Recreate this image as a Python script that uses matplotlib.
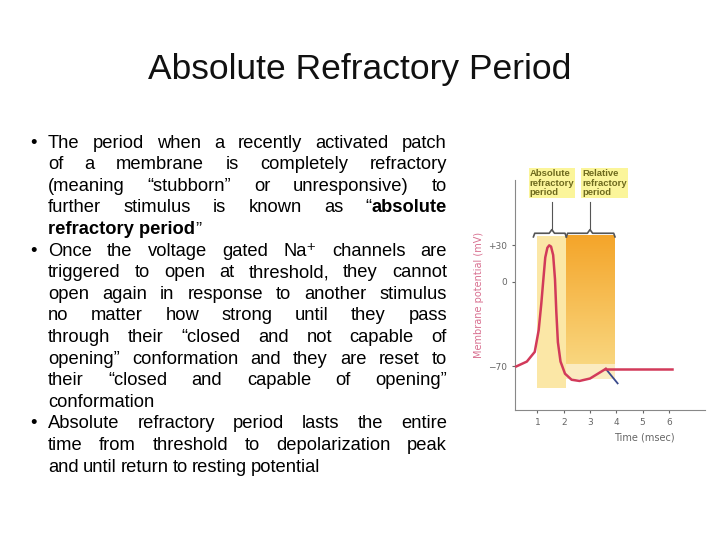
import numpy as np
import matplotlib; matplotlib.use("Agg")
import matplotlib.pyplot as plt

# --- data ---
time_ms = [0.2, 0.6, 0.9, 1.05, 1.15, 1.22, 1.3, 1.38, 1.45, 1.52, 1.6, 1.67, 1.72, 1.78, 1.88, 2.05, 2.3, 2.6, 3.0, 3.3, 3.6]
potential = [-70, -66, -58, -40, -18, 0, 20, 28, 30, 29, 22, 2, -25, -50, -66, -76, -81, -82, -80, -76, -72]
rest_t = [3.6, 6.1]
rest_v = [-72, -72]
hyper_t = [3.6, 4.05]
hyper_v = [-72, -84]
yticks = [30, 0, -70]
yticklabels = ['+30', '0', '\u221270']
xticks = [1, 2, 3, 4, 5, 6]
abs_span = (1.0, 2.1)
rel_span = (2.1, 3.95)

bullets = [
    [[("The", 0), ("period", 0), ("when", 0), ("a", 0), ("recently", 0), ("activated", 0), ("patch", 0)],
     [("of", 0), ("a", 0), ("membrane", 0), ("is", 0), ("completely", 0), ("refractory", 0)],
     [("(meaning", 0), ("\u201cstubborn\u201d", 0), ("or", 0), ("unresponsive)", 0), ("to", 0)],
     [("further", 0), ("stimulus", 0), ("is", 0), ("known", 0), ("as", 0), ("\u201c", 0), ("absolute", 1)],
     [("refractory period", 1), ("\u201d", 0)]],
    [[("Once", 0), ("the", 0), ("voltage", 0), ("gated", 0), ("Na\u207a", 0), ("channels", 0), ("are", 0)],
     [("triggered", 0), ("to", 0), ("open", 0), ("at", 0), ("threshold,", 0), ("they", 0), ("cannot", 0)],
     [("open", 0), ("again", 0), ("in", 0), ("response", 0), ("to", 0), ("another", 0), ("stimulus", 0)],
     [("no", 0), ("matter", 0), ("how", 0), ("strong", 0), ("until", 0), ("they", 0), ("pass", 0)],
     [("through", 0), ("their", 0), ("\u201cclosed", 0), ("and", 0), ("not", 0), ("capable", 0), ("of", 0)],
     [("opening\u201d", 0), ("conformation", 0), ("and", 0), ("they", 0), ("are", 0), ("reset", 0), ("to", 0)],
     [("their", 0), ("\u201cclosed", 0), ("and", 0), ("capable", 0), ("of", 0), ("opening\u201d", 0)],
     [("conformation", 0)]],
    [[("Absolute", 0), ("refractory", 0), ("period", 0), ("lasts", 0), ("the", 0), ("entire", 0)],
     [("time", 0), ("from", 0), ("threshold", 0), ("to", 0), ("depolarization", 0), ("peak", 0)],
     [("and", 0), ("until", 0), ("return", 0), ("to", 0), ("resting", 0), ("potential", 0)]],
]

W, H = 720, 540
fig = plt.figure(figsize=(7.2, 5.4), dpi=100)
fam = ['Liberation Sans', 'DejaVu Sans']
fig.text(360/W, 1-70/H, "Absolute Refractory Period", ha='center', va='center',
         fontsize=25.5, family=fam, color='#111111')

# --- justified bullet text ---
r = fig.canvas.get_renderer()
x0, x1 = 48, 447
y = 143
fs = 13.2
for para in bullets:
    fig.text(30/W, 1-y/H, "\u2022", ha='left', va='center', fontsize=fs, family=fam)
    for li, line in enumerate(para):
        last = li == len(para) - 1
        arts = []
        for w, b in line:
            t = fig.text(0, 1-y/H, w, ha='left', va='center', fontsize=fs, family=fam,
                         fontweight='bold' if b else 'normal')
            arts.append(t)
        widths = [a.get_window_extent(r).width for a in arts]
        glue = [not (line[i][0] == "\u201c" or line[i+1][0] == "\u201d") for i in range(len(line)-1)]
        ngaps = sum(glue)
        sp = 4.0 if last or ngaps == 0 else (x1 - x0 - sum(widths)) / ngaps
        x = x0
        for i, a in enumerate(arts):
            a.set_x(x/W)
            x += widths[i] + (sp if i < len(arts)-1 and glue[i] else 0)
        y += 21.6

# --- chart ---
ax = fig.add_axes([515/W, 1-410/H, 190/W, 230/H])
ax.set_xlim(0.15, 7.37)
ax.set_ylim(-106, 84)
ax.axvspan(abs_span[0], abs_span[1], ymin=(-88+106)/190, ymax=(38+106)/190, color='#FBE7A6', lw=0)
ax.axvspan(rel_span[0], rel_span[1], ymin=(-80+106)/190, ymax=(-68+106)/190, color='#FBEBC0', lw=0)
grad = np.linspace(0, 1, 100).reshape(-1, 1)
cmap = matplotlib.colors.LinearSegmentedColormap.from_list('o', ['#F9D67E', '#F4A52A'])
ax.imshow(grad, extent=[rel_span[0], rel_span[1], -68, 38], origin='lower', cmap=cmap,
          aspect='auto', zorder=1)
ax.plot(hyper_t, hyper_v, color='#3A4A8C', lw=1.3, zorder=3)
ax.plot(time_ms, potential, color='#D23A5A', lw=1.8, zorder=4, clip_on=False)
ax.plot(rest_t, rest_v, color='#D23A5A', lw=1.8, zorder=4)

# braces and labels
def brace(xa, xb, yb, xm):
    ax.plot([xa, xa+0.05, xm-0.1, xm, xm+0.1, xb-0.05, xb],
            [yb-3, yb, yb, yb+3, yb, yb, yb-3], color='#555555', lw=1.2, clip_on=False)
    ax.plot([xm, xm], [yb+3, yb+26], color='#555555', lw=0.8, clip_on=False)
brace(abs_span[0]-0.15, abs_span[1], 40, 1.55)
brace(abs_span[1], rel_span[1], 40, 3.0)
for xm, lab in [(0.7, "Absolute\nrefractory\nperiod"), (2.7, "Relative\nrefractory\nperiod")]:
    ax.text(xm, 70, lab, ha='left', va='bottom', fontsize=6.8, fontweight='bold',
            color='#6E6A1E', family=fam, linespacing=1.05,
            bbox=dict(boxstyle='square,pad=0.1', fc='#FBF59A', ec='none'))

for s in ['top', 'right']:
    ax.spines[s].set_visible(False)
ax.spines['left'].set_color('#888888')
ax.spines['bottom'].set_color('#888888')
ax.set_xticks(xticks)
ax.set_yticks(yticks)
ax.set_yticklabels(yticklabels)
ax.tick_params(labelsize=6.5, colors='#666666', length=2)
ax.set_ylabel("Membrane potential (mV)", fontsize=7, color='#D87090', labelpad=3)
ax.set_xlabel("Time (msec)", fontsize=7, color='#666666')
ax.xaxis.set_label_coords(0.68, -0.1)

fig.savefig('out.png', dpi=100)
